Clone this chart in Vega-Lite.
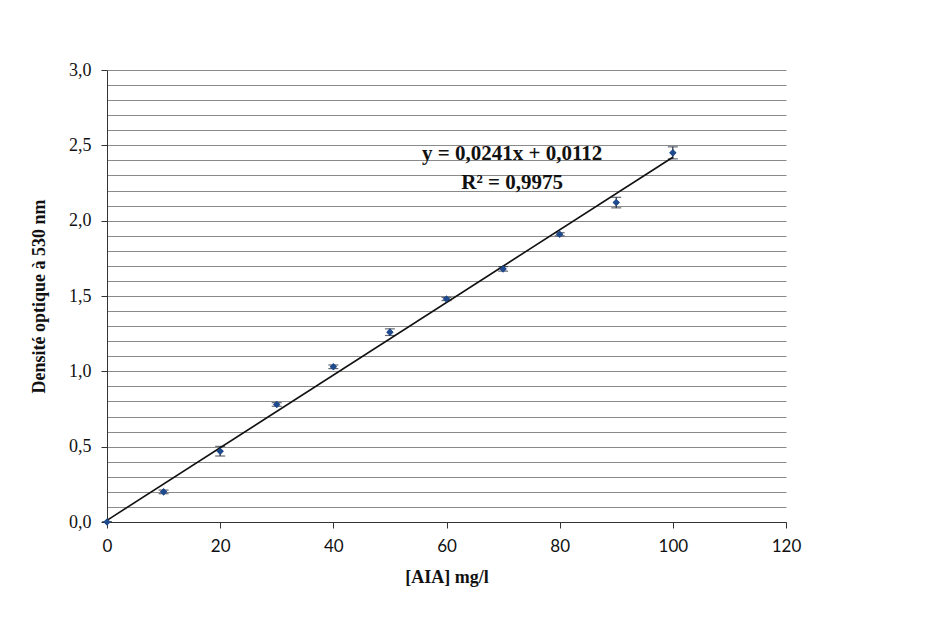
{
  "$schema": "https://vega.github.io/schema/vega-lite/v6.json",
  "width": 679,
  "height": 452,
  "autosize": {"type": "none"},
  "padding": {"left": 107, "top": 70, "right": 141, "bottom": 101},
  "background": "white",
  "config": {
    "locale": {"number": {"decimal": ",", "thousands": " ", "grouping": [3], "currency": ["", " €"]}},
    "view": {"stroke": null},
    "axis": {"domainColor": "#333333", "tickColor": "#333333", "labelColor": "#111111", "titleColor": "#111111"}
  },
  "datasets": {
    "points": [
      {"conc": 0, "od": 0.0, "err": 0.0},
      {"conc": 10, "od": 0.20, "err": 0.012},
      {"conc": 20, "od": 0.47, "err": 0.032},
      {"conc": 30, "od": 0.78, "err": 0.012},
      {"conc": 40, "od": 1.03, "err": 0.012},
      {"conc": 50, "od": 1.26, "err": 0.022},
      {"conc": 60, "od": 1.48, "err": 0.01},
      {"conc": 70, "od": 1.68, "err": 0.015},
      {"conc": 80, "od": 1.91, "err": 0.01},
      {"conc": 90, "od": 2.12, "err": 0.035},
      {"conc": 100, "od": 2.45, "err": 0.04}
    ],
    "trend": [
      {"conc": 0, "od": 0.0112},
      {"conc": 100, "od": 2.4212}
    ],
    "labels": [
      {"conc": 71.6, "od": 2.44, "txt": "y = 0,0241x + 0,0112"},
      {"conc": 71.6, "od": 2.25, "txt": "R² = 0,9975"}
    ]
  },
  "layer": [
    {
      "data": {"name": "points"},
      "mark": {"type": "point", "shape": "diamond", "filled": true, "color": "#1f4a8e", "size": 50, "opacity": 1},
      "encoding": {
        "x": {"field": "conc", "type": "quantitative",
          "scale": {"domain": [0, 120], "nice": false},
          "axis": {"tickCount": 6, "labelOverlap": false, "labelFlush": false, "grid": false, "tickSize": 6, "labelPadding": 10,
            "labelFont": "Lato", "labelFontSize": 17, "labelFontWeight": "normal",
            "title": "[AIA] mg/l", "titleFont": "Liberation Serif", "titleFontSize": 18, "titleFontWeight": "bold", "titlePadding": 14}},
        "y": {"field": "od", "type": "quantitative",
          "scale": {"domain": [0, 3], "nice": false},
          "axis": {"tickCount": 30,
            "format": ".1f",
            "labelExpr": "abs(datum.value*2 - round(datum.value*2)) < 0.001 ? datum.label : ''",
            "tickOpacity": {"condition": {"test": "abs(datum.value*2 - round(datum.value*2)) < 0.001", "value": 1}, "value": 0},
            "grid": true, "gridColor": "#8a8a8a", "gridWidth": 1, "gridOpacity": 1,
            "tickSize": 6, "labelPadding": 10, "labelOverlap": false,
            "labelFont": "Liberation Serif", "labelFontSize": 18,
            "title": "Densité optique à 530 nm", "titleFont": "Liberation Serif", "titleFontSize": 18, "titleFontWeight": "bold", "titlePadding": 20}}
      }
    },
    {
      "data": {"name": "points"},
      "mark": {"type": "errorbar", "ticks": {"size": 10, "color": "#222b3a"}, "color": "#222b3a", "thickness": 1.2},
      "encoding": {
        "x": {"field": "conc", "type": "quantitative", "title": "[AIA] mg/l"},
        "y": {"field": "od", "type": "quantitative", "title": "Densité optique à 530 nm"},
        "yError": {"field": "err"}
      }
    },
    {
      "data": {"name": "trend"},
      "mark": {"type": "line", "color": "#111111", "strokeWidth": 1.6},
      "encoding": {
        "x": {"field": "conc", "type": "quantitative"},
        "y": {"field": "od", "type": "quantitative"}
      }
    },
    {
      "data": {"name": "points"},
      "mark": {"type": "point", "shape": "diamond", "filled": true, "color": "#1f4a8e", "size": 50, "opacity": 1},
      "encoding": {
        "x": {"field": "conc", "type": "quantitative"},
        "y": {"field": "od", "type": "quantitative"}
      }
    },
    {
      "data": {"name": "labels"},
      "mark": {"type": "text", "font": "Liberation Serif", "fontSize": 21, "fontWeight": "bold", "color": "#111111", "align": "center", "baseline": "middle"},
      "encoding": {
        "x": {"field": "conc", "type": "quantitative"},
        "y": {"field": "od", "type": "quantitative"},
        "text": {"field": "txt"}
      }
    }
  ]
}
